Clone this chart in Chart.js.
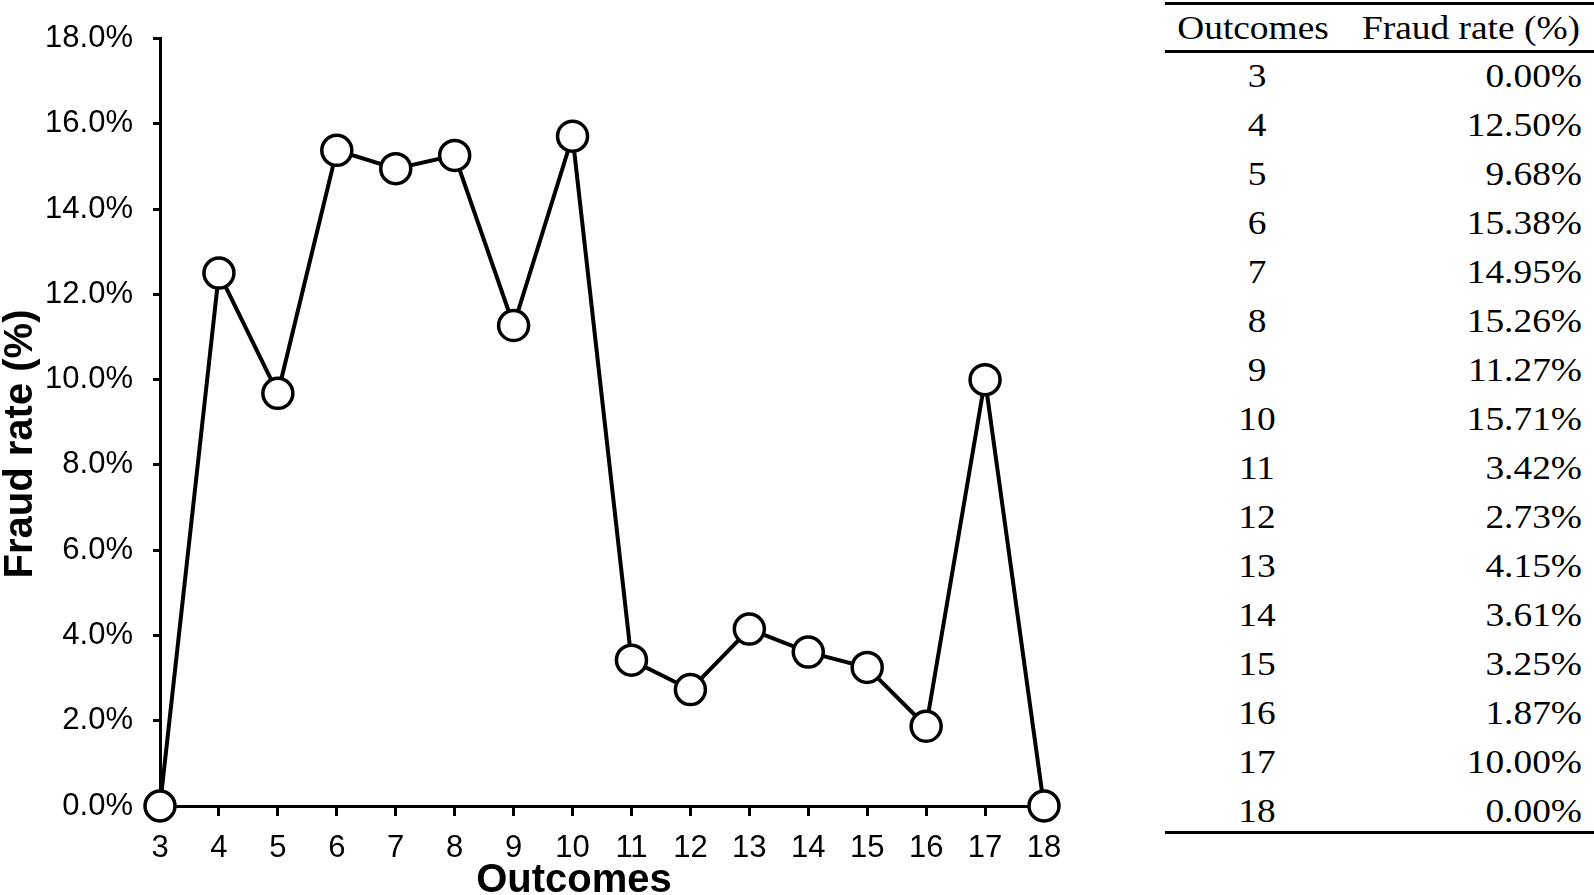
<!DOCTYPE html>
<html>
<head>
<meta charset="utf-8">
<script src="https://cdn.jsdelivr.net/npm/chart.js@4.4.0/dist/chart.umd.min.js"></script>
<style>
	body { margin: 0; background: #fff; }
	#wrap { position: relative; width: 1594px; height: 895px; overflow: hidden; }
	#chart { position: absolute; left: 0; top: 0; }
	.rule { position: absolute; left: 1165px; width: 429px; height: 3px; background: #000; }
	.cell {
		position: absolute; height: 34px; line-height: 34px;
		font-family: "Liberation Serif", "Times New Roman", serif; font-size: 34px; color: #000;
		white-space: nowrap;
	}
	.c1 { width: 200px; text-align: center; transform: scaleX(1.1); transform-origin: center center; }
	.c2 { width: 300px; text-align: right; transform: scaleX(1.1); transform-origin: right center; }
</style>
</head>
<body>
<div id="wrap">
	<canvas id="chart" width="1110" height="895"></canvas>
	<div id="table"></div>
</div>
<script>
// chart data
var outcomes = [3, 4, 5, 6, 7, 8, 9, 10, 11, 12, 13, 14, 15, 16, 17, 18];
var fraudRates = [0.00, 12.50, 9.68, 15.38, 14.95, 15.26, 11.27, 15.71, 3.42, 2.73, 4.15, 3.61, 3.25, 1.87, 10.00, 0.00];
var yTickLabels = ['0.0%', '2.0%', '4.0%', '6.0%', '8.0%', '10.0%', '12.0%', '14.0%', '16.0%', '18.0%'];
var xTitle = 'Outcomes';
var yTitle = 'Fraud rate (%)';
var tableHeaders = ['Outcomes', 'Fraud rate (%)'];

// table on the right
var table = document.getElementById('table');
function addRule(y) {
	var r = document.createElement('div');
	r.className = 'rule';
	r.style.top = (y - 1.5) + 'px';
	table.appendChild(r);
}
function addCell(text, cls, anchorX, baseline) {
	var d = document.createElement('div');
	d.className = 'cell ' + cls;
	d.textContent = text;
	d.style.top = (baseline - 28.5) + 'px';
	d.style.left = (cls == 'c1' ? anchorX - 100 : anchorX - 300) + 'px';
	table.appendChild(d);
}
addRule(3);
addCell(tableHeaders[0], 'c1', 1253, 39);
addCell(tableHeaders[1], 'c2', 1580, 39);
addRule(51);
outcomes.forEach(function (o, i) {
	var base = 87 + 49 * i;
	addCell(String(o), 'c1', 1257, base);
	addCell(fraudRates[i].toFixed(2) + '%', 'c2', 1582, base);
});
addRule(832);

// axis titles drawn at fixed spots
var axisTitles = {
	id: 'axisTitles',
	afterDraw: function (chart) {
		var ctx = chart.ctx;
		ctx.save();
		ctx.fillStyle = '#000';
		ctx.font = 'bold 40px "Liberation Sans", Arial, sans-serif';
		ctx.textAlign = 'center';
		ctx.textBaseline = 'alphabetic';
		ctx.fillText(xTitle, 574, 892);
		ctx.translate(32, 444);
		ctx.rotate(-Math.PI / 2);
		ctx.fillText(yTitle, 0, 0);
		ctx.restore();
	}
};

var tickFont = { family: '"Liberation Sans", Arial, sans-serif', size: 31 };

new Chart(document.getElementById('chart'), {
	type: 'line',
	data: {
		datasets: [{
			data: outcomes.map(function (o, i) { return { x: o, y: fraudRates[i] }; }),
			borderColor: '#000',
			borderWidth: 4,
			pointRadius: 15,
			pointBorderWidth: 3.5,
			pointBackgroundColor: '#fff',
			pointBorderColor: '#000',
			tension: 0,
			clip: false
		}]
	},
	options: {
		responsive: false,
		animation: false,
		layout: { padding: { top: 33, right: 66, left: 0, bottom: 0 } },
		plugins: {
			legend: { display: false },
			tooltip: { enabled: false }
		},
		scales: {
			x: {
				type: 'linear',
				min: 3,
				max: 18,
				afterFit: function (s) { s.height = 89; },
				ticks: {
					stepSize: 1,
					color: '#000',
					font: tickFont,
					padding: 14,
					maxRotation: 0
				},
				grid: {
					drawOnChartArea: false,
					tickLength: 10,
					tickWidth: 3,
					tickColor: '#000'
				},
				border: { color: '#000', width: 3 }
			},
			y: {
				min: 0,
				max: 18,
				afterFit: function (s) { s.width = 160; },
				ticks: {
					stepSize: 2,
					color: '#000',
					font: tickFont,
					padding: 20,
					callback: function (v) { return yTickLabels[Math.round(v / 2)]; }
				},
				grid: {
					drawOnChartArea: false,
					tickLength: 7,
					tickWidth: 3,
					tickColor: '#000'
				},
				border: { color: '#000', width: 3 }
			}
		}
	},
	plugins: [axisTitles]
});
</script>
</body>
</html>
